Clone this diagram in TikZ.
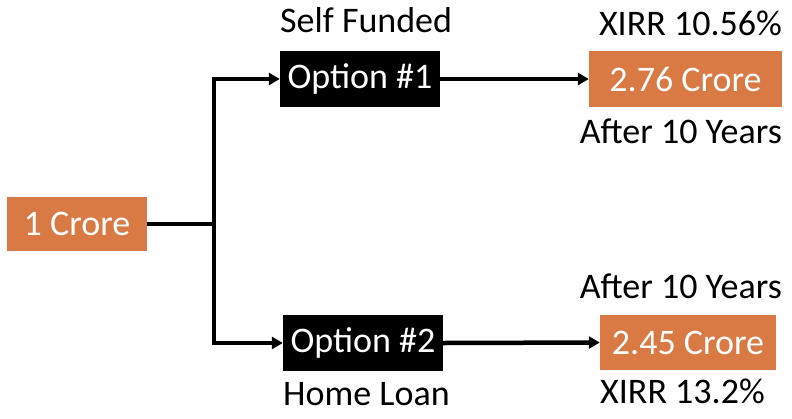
\documentclass[tikz,border=0pt]{standalone}
\usepackage{fontspec}
\setmainfont{Carlito}
\usetikzlibrary{arrows.meta}
\definecolor{boxorange}{HTML}{D97943}
\tikzset{
  txt/.style={font=\fontsize{36}{40}\selectfont, inner sep=0pt},
  obox/.style={txt, fill=boxorange, text=white, inner sep=0pt},
  bbox/.style={txt, fill=black, text=white, inner sep=0pt},
  conn/.style={line width=4.5pt, -{Triangle[length=11pt,width=12pt]}},
  plain/.style={line width=4.5pt}
}
\begin{document}
\begin{tikzpicture}[x=1pt,y=-1pt]
\useasboundingbox (0,0) rectangle (792,418);
% boxes
\node[obox, minimum width=140pt, minimum height=54pt] (start) at (77,224) {1 Crore};
\node[bbox, minimum width=160pt, minimum height=56pt] (opt1) at (360,79) {Option \#1};
\node[bbox, minimum width=160pt, minimum height=56pt] (opt2) at (363,343) {Option \#2};
\node[obox, minimum width=193pt, minimum height=56pt] (res1) at (685.5,79) {2.76 Crore};
\node[obox, minimum width=176pt, minimum height=55pt] (res2) at (688,342.5) {2.45 Crore};
% labels
\node[txt, anchor=base west] (sf) at (280,32) {Self Funded};
\node[txt, anchor=base west] (hl) at (283,405) {Home Loan};
\node[txt, anchor=base east] (x1) at (782,35) {XIRR 10.56\%};
\node[txt, anchor=base east] (a1) at (782,143) {After 10 Years};
\node[txt, anchor=base east] (a2) at (782,298) {After 10 Years};
\node[txt, anchor=base west] (x2) at (600,403) {XIRR 13.2\%};
% connectors
\coordinate (junc) at (214,224);
\draw[plain] (start.east) -- (junc);
\draw[conn] (junc) |- (opt1.west);
\draw[conn] (junc) |- (opt2.west);
\draw[conn] (opt1.east) -- (res1.west);
\draw[conn] (opt2.east) -- (res2.west);
\end{tikzpicture}
\end{document}
